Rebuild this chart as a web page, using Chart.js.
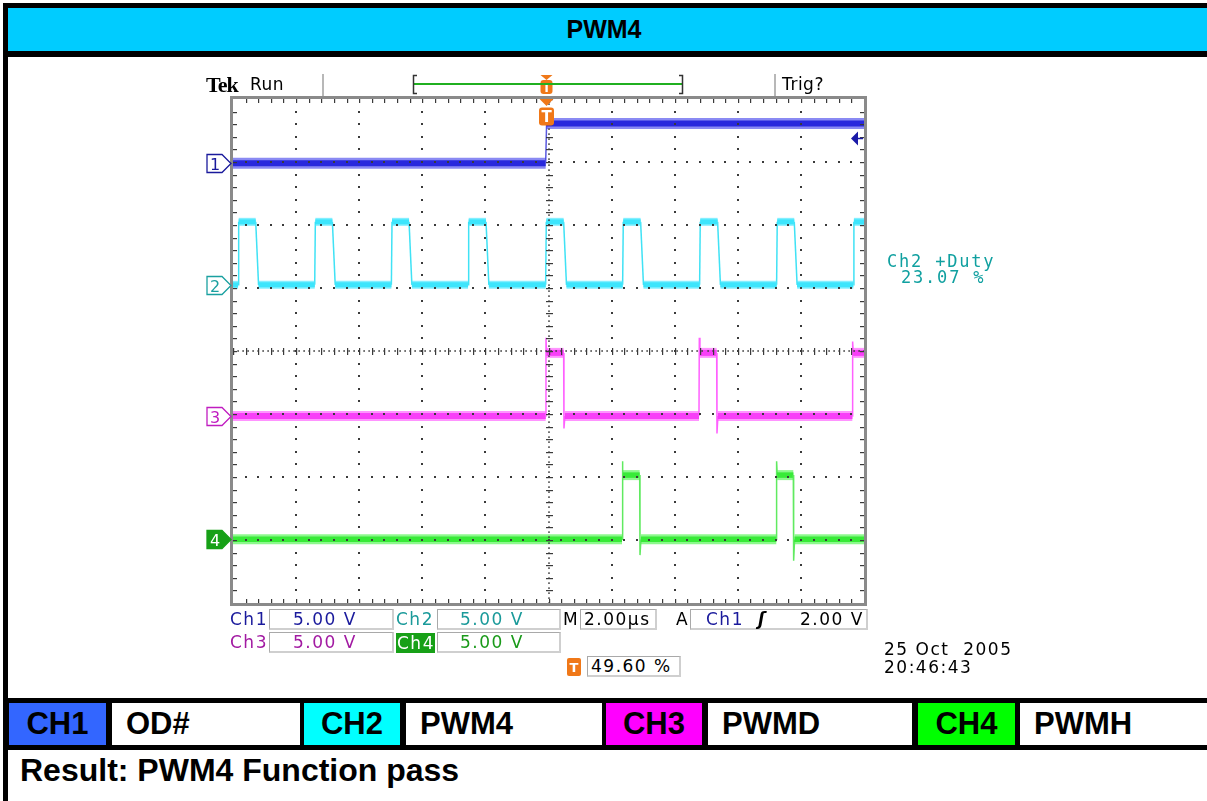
<!DOCTYPE html>
<html><head><meta charset="utf-8">
<script src="https://cdn.jsdelivr.net/npm/chart.js@4.4.1/dist/chart.umd.min.js"></script>
<style>
html,body{margin:0;padding:0;background:#fff;}
body{width:1207px;height:801px;position:relative;overflow:hidden;font-family:"Liberation Sans",Arial,sans-serif;}
.abs{position:absolute;}
.blk{position:absolute;background:#000;}
.cell{position:absolute;top:703px;height:42px;display:flex;align-items:center;font-weight:bold;font-size:31px;color:#000;box-sizing:border-box;}
.ccol{justify-content:center;}
.cw{background:#fff;padding-left:14px;}
.sc{position:absolute;font-family:"DejaVu Sans",sans-serif;font-size:17px;letter-spacing:1.5px;display:flex;align-items:center;white-space:pre;z-index:3;line-height:17px;}
.box{border:1px solid #a9a9a9;border-right:2px solid #cfcfcf;border-bottom:2px solid #cfcfcf;box-sizing:border-box;background:#fff;}
#c{position:absolute;left:0;top:0;z-index:1;}
#ov{position:absolute;left:0;top:0;z-index:2;}
</style></head>
<body>
<div class="blk" style="left:3px;top:3px;width:1210px;height:54px"></div>
<div class="abs" style="left:8px;top:8px;width:1205px;height:43px;background:#00ccff;"></div>
<div class="abs" style="left:8px;top:8px;width:1192px;height:43px;display:flex;align-items:center;justify-content:center;font-weight:bold;font-size:25px;">PWM4</div>
<div class="blk" style="left:3px;top:3px;width:5px;height:800px"></div>

<div class="blk" style="left:3px;top:698px;width:1210px;height:52px"></div>
<div class="cell ccol" style="left:9px;width:97px;background:#3366ff;">CH1</div>
<div class="cell cw" style="left:112px;width:188px;">OD#</div>
<div class="cell ccol" style="left:304px;width:96px;background:#00ffff;">CH2</div>
<div class="cell cw" style="left:406px;width:196px;">PWM4</div>
<div class="cell ccol" style="left:606px;width:96px;background:#ff00ff;">CH3</div>
<div class="cell cw" style="left:708px;width:204px;">PWMD</div>
<div class="cell ccol" style="left:918px;width:97px;background:#00ff00;">CH4</div>
<div class="cell cw" style="left:1020px;width:200px;">PWMH</div>
<div class="abs" style="left:20px;top:754px;font-weight:bold;font-size:32px;line-height:32px;">Result: PWM4 Function pass</div>

<canvas id="c" width="1207" height="801"></canvas>
<svg id="ov" width="1207" height="801" xmlns="http://www.w3.org/2000/svg"></svg>

<!-- scope top status -->
<div class="sc" style="left:206px;top:74px;height:20px;font-family:'Liberation Serif',serif;font-weight:bold;font-size:22px;letter-spacing:-1px;">Tek</div>
<div class="sc" style="left:250px;top:74px;height:20px;letter-spacing:0.5px;">Run</div>
<div class="sc" style="left:782px;top:74px;height:20px;letter-spacing:0.5px;">Trig?</div>

<!-- Ch2 +Duty measurement -->
<div class="sc" style="left:887px;top:252px;height:18px;font-family:'DejaVu Sans Mono',monospace;font-size:17px;letter-spacing:1.8px;color:#10a0a0;">Ch2 +Duty</div>
<div class="sc" style="left:901px;top:268px;height:18px;font-family:'DejaVu Sans Mono',monospace;font-size:17px;letter-spacing:1.8px;color:#10a0a0;">23.07 %</div>

<!-- bottom readouts row 1 -->
<div class="sc" style="left:230px;top:609px;height:21px;color:#1a1a9c;">Ch1</div>
<div class="sc box" style="left:269px;top:609px;width:125px;height:21px;padding-left:23px;color:#1a1a9c;">5.00 V</div>
<div class="sc" style="left:396px;top:609px;height:21px;color:#1a9a9a;">Ch2</div>
<div class="sc box" style="left:437px;top:609px;width:124px;height:21px;padding-left:22px;color:#1a9a9a;">5.00 V</div>
<div class="sc" style="left:563px;top:609px;height:21px;color:#000;">M</div>
<div class="sc box" style="left:580px;top:609px;width:77px;height:21px;padding-left:3px;color:#000;">2.00µs</div>
<div class="sc" style="left:676px;top:609px;height:21px;color:#000;">A</div>
<div class="sc box" style="left:690px;top:609px;width:178px;height:21px;color:#000;"></div>
<div class="sc" style="left:706px;top:609px;height:21px;color:#1a1a9c;">Ch1</div>
<div class="sc" style="left:758px;top:609px;height:21px;color:#000;font-style:italic;font-weight:bold;">ʃ</div>
<div class="sc" style="left:800px;top:609px;height:21px;color:#000;">2.00 V</div>
<!-- row 2 -->
<div class="sc" style="left:230px;top:632px;height:21px;color:#a21aa2;">Ch3</div>
<div class="sc box" style="left:269px;top:632px;width:125px;height:21px;padding-left:23px;color:#a21aa2;">5.00 V</div>
<div class="sc" style="left:396px;top:633px;height:20px;width:39px;background:#17a017;color:#fff;padding-left:1px;box-sizing:border-box;">Ch4</div>
<div class="sc box" style="left:437px;top:632px;width:124px;height:21px;padding-left:22px;color:#1a9a1a;">5.00 V</div>
<!-- row 3 -->
<div class="sc box" style="left:587px;top:656px;width:94px;height:21px;padding-left:3px;color:#000;">49.60 %</div>
<div class="sc" style="left:884px;top:640px;height:18px;color:#000;">25 Oct  2005</div>
<div class="sc" style="left:884px;top:658px;height:18px;color:#000;">20:46:43</div>

<script>
// ---- data (time in µs relative to trigger, level in volts) ----
const timeRange = [-9.92, 10.08];      // 10 div x 2.00 µs/div, trigger at 49.60 %
const voltsPerDiv = 5.00;               // all four channels at 5.00 V/div
const channelNames = ["Ch1", "Ch2", "Ch3", "Ch4"];
const triggerLevel = 2.00;              // Ch1 rising, 2.00 V

const ch1Time = [-9.92, -0.01, 0.02, 10.08];
const ch1Volt = [0.0, 0.0, 3.15, 3.15];

const ch2Time = [-9.92,
  -9.76, -9.74, -9.20, -9.11,
  -7.33, -7.31, -6.77, -6.68,
  -4.90, -4.88, -4.34, -4.25,
  -2.47, -2.45, -1.90, -1.81,
  -0.01, 0.01, 0.56, 0.65,
  2.43, 2.45, 3.00, 3.09,
  4.87, 4.89, 5.44, 5.53,
  7.31, 7.33, 7.87, 7.96,
  9.74, 9.76, 10.08];
const ch2Volt = [0,
  0, 5, 5, 0,
  0, 5, 5, 0,
  0, 5, 5, 0,
  0, 5, 5, 0,
  0, 5, 5, 0,
  0, 5, 5, 0,
  0, 5, 5, 0,
  0, 5, 5, 0,
  0, 5, 5];

const ch3Time = [-9.92, -0.01, 0.00, 0.02, 0.56, 0.57, 0.60, 4.85, 4.86, 4.88, 5.41, 5.42, 5.45, 9.71, 9.72, 9.74, 10.08];
const ch3Volt = [0, 0, 6.2, 5.0, 5.0, -1.0, 0, 0, 6.2, 5.0, 5.0, -1.4, 0, 0, 5.9, 5.0, 5.0];

const ch4Time = [-9.92, 2.41, 2.42, 2.44, 2.97, 2.98, 3.01, 7.30, 7.31, 7.33, 7.84, 7.85, 7.88, 10.08];
const ch4Volt = [0, 0, 6.2, 5.1, 5.1, -1.25, 0, 0, 6.2, 5.1, 5.1, -1.7, 0, 0];

// ---- display settings ----
const chPos = [2.98, 1.05, -1.03, -2.99];   // vertical position, divisions
const chStyle = [
  {core:"#0c0cc8", halo:"rgba(60,60,235,0.6)", edge:"#5a5ae0", cw:6, hw:11, label:"#1a1a9c"},
  {core:"#12def4", halo:"rgba(80,232,255,0.7)", edge:"#40e2f5", cw:5, hw:8, label:"#1aa0a0"},
  {core:"#ec0cec", halo:"rgba(255,90,255,0.65)", edge:"#ff60ff", cw:6, hw:10, label:"#c01cc0"},
  {core:"#0cd80c", halo:"rgba(80,245,80,0.65)", edge:"#60ea60", cw:5.5, hw:10, label:"#17a017"}
];
const series = [[ch1Time, ch1Volt], [ch2Time, ch2Volt], [ch3Time, ch3Volt], [ch4Time, ch4Volt]];

const flat = c => c.p0.parsed.y === c.p1.parsed.y;
const datasets = [];
series.forEach(([ts, vs], i) => {
  const pts = ts.map((t, k) => ({x: t, y: chPos[i] + vs[k] / voltsPerDiv}));
  const s = chStyle[i];
  datasets.push({label: channelNames[i] + " noise", data: pts, borderColor: s.halo, borderWidth: s.hw,
    pointRadius: 0, tension: 0, fill: false,
    segment: {borderWidth: c => flat(c) ? s.hw : 1, borderColor: c => flat(c) ? s.halo : "rgba(0,0,0,0)"}});
  datasets.push({label: channelNames[i], data: pts, borderColor: s.core, borderWidth: s.cw,
    pointRadius: 0, tension: 0, fill: false,
    segment: {borderWidth: c => flat(c) ? s.cw : 1.5, borderColor: c => flat(c) ? s.core : s.edge}});
});

const scopeGrid = {
  id: "scopeGrid",
  afterDatasetsDraw(chart) {
    const {ctx, chartArea: a} = chart;
    const dx = (a.right - a.left) / 10, dy = (a.bottom - a.top) / 8;
    ctx.save();
    ctx.fillStyle = "#3a3a3a";
    for (let k = 1; k < 10; k++) {
      if (k === 5) continue;
      const px = Math.round(a.left + k * dx);
      for (let j = 1; j < 40; j++) ctx.fillRect(px - 1, Math.round(a.top + j * dy / 5) - 1, 2, 2);
    }
    for (let m = 1; m < 8; m++) {
      if (m === 4) continue;
      const py = Math.round(a.top + m * dy);
      for (let i = 1; i < 50; i++) ctx.fillRect(Math.round(a.left + i * dx / 5) - 1, py - 1, 2, 2);
    }
    const cx = Math.round(a.left + 5 * dx), cy = Math.round(a.top + 4 * dy);
    for (let j = 0; j <= 100; j++) ctx.fillRect(cx - 1, Math.round(a.top + j * dy / 12.5) - 0.5, 2, 1.2);
    for (let i = 0; i <= 125; i++) ctx.fillRect(Math.round(a.left + i * dx / 12.5) - 0.5, cy - 1, 1.2, 2);
    for (let j = 0; j <= 40; j++) ctx.fillRect(cx - 3, Math.round(a.top + j * dy / 5), 7, 1.2);
    for (let i = 0; i <= 50; i++) ctx.fillRect(Math.round(a.left + i * dx / 5), cy - 3, 1.2, 7);
    // edge ticks
    for (let i = 1; i < 50; i++) {
      const px = Math.round(a.left + i * dx / 5);
      ctx.fillRect(px, a.top, 1.2, 4);
      ctx.fillRect(px, a.bottom - 4, 1.2, 4);
    }
    for (let j = 1; j < 40; j++) {
      const py = Math.round(a.top + j * dy / 5);
      ctx.fillRect(a.left, py, 4, 1.2);
      ctx.fillRect(a.right - 4, py, 4, 1.2);
    }
    ctx.strokeStyle = "#8a8a8a";
    ctx.lineWidth = 3;
    ctx.strokeRect(a.left - 1.5, a.top - 1.5, a.right - a.left + 3, a.bottom - a.top + 3);
    ctx.restore();
  }
};

const chart = new Chart(document.getElementById("c"), {
  type: "line",
  data: {datasets},
  options: {
    responsive: false, animation: false, events: [],
    layout: {padding: {left: 233, top: 99, right: 343, bottom: 198}},
    scales: {
      x: {type: "linear", min: timeRange[0], max: timeRange[1], display: false},
      y: {type: "linear", min: -4, max: 4, display: false}
    },
    plugins: {legend: {display: false}, tooltip: {enabled: false}}
  },
  plugins: [scopeGrid]
});

// ---- scope overlay marks positioned from the chart scales ----
const NS = "http://www.w3.org/2000/svg";
const ov = document.getElementById("ov");
function el(tag, attrs, text) {
  const e = document.createElementNS(NS, tag);
  for (const k in attrs) e.setAttribute(k, attrs[k]);
  if (text !== undefined) e.textContent = text;
  ov.appendChild(e);
  return e;
}
const xs = chart.scales.x, ys = chart.scales.y;
chPos.forEach((p, i) => {
  const c = Math.round(ys.getPixelForValue(p)) + 0.5;
  const s = chStyle[i];
  const filled = i === 3;
  el("path", {d: `M207,${c-9} H222 L231,${c} L222,${c+9} H207 Z`, fill: filled ? s.label : "#fff",
    stroke: s.label, "stroke-width": 1.3});
  el("text", {x: 215, y: c + 6, "text-anchor": "middle", "font-family": "DejaVu Sans", "font-size": 16,
    fill: filled ? "#fff" : s.label}, String(i + 1));
});
const tx = Math.round(xs.getPixelForValue(0)) + 0.5;
// trigger position marks
el("path", {d: `M${tx-6},75 H${tx+6} L${tx},80 Z`, fill: "#f07818"});
el("rect", {x: tx - 6, y: 80, width: 12, height: 14, rx: 3, fill: "#f07818"});
el("text", {x: tx, y: 92, "text-anchor": "middle", "font-family": "DejaVu Sans", "font-weight": "bold", "font-size": 12, fill: "#fff"}, "T");
el("path", {d: `M${tx-7},99 H${tx+7} L${tx},106 Z`, fill: "#f07818"});
el("rect", {x: tx - 7.5, y: 107.5, width: 15, height: 18, rx: 3, fill: "#f07818"});
el("text", {x: tx, y: 122, "text-anchor": "middle", "font-family": "DejaVu Sans", "font-weight": "bold", "font-size": 15, fill: "#fff"}, "T");
// record bracket
el("line", {x1: 413, y1: 84, x2: 683, y2: 84, stroke: "#20b020", "stroke-width": 2});
el("path", {d: "M417,75.5 H413.5 V93.5 H417", fill: "none", stroke: "#333", "stroke-width": 1.5});
el("path", {d: "M679,75.5 H682.5 V93.5 H679", fill: "none", stroke: "#333", "stroke-width": 1.5});
el("line", {x1: 323, y1: 74, x2: 323, y2: 96, stroke: "#a0a0a0", "stroke-width": 1.5});
el("line", {x1: 775, y1: 74, x2: 775, y2: 96, stroke: "#a0a0a0", "stroke-width": 1.5});
// trigger level arrow
const ty = Math.round(ys.getPixelForValue(chPos[0] + triggerLevel / voltsPerDiv)) + 0.5;
el("path", {d: `M851,${ty} L858,${ty-7} L858,${ty+7} Z`, fill: "#1a1aa8"});
el("line", {x1: 858, y1: ty, x2: 863, y2: ty, stroke: "#1a1aa8", "stroke-width": 1.5});
// small trigger T icon in readout
el("rect", {x: 567, y: 658, width: 14, height: 18, rx: 2, fill: "#f07818"});
el("text", {x: 574, y: 672, "text-anchor": "middle", "font-family": "DejaVu Sans", "font-weight": "bold", "font-size": 13, fill: "#fff"}, "T");
</script>
</body></html>
